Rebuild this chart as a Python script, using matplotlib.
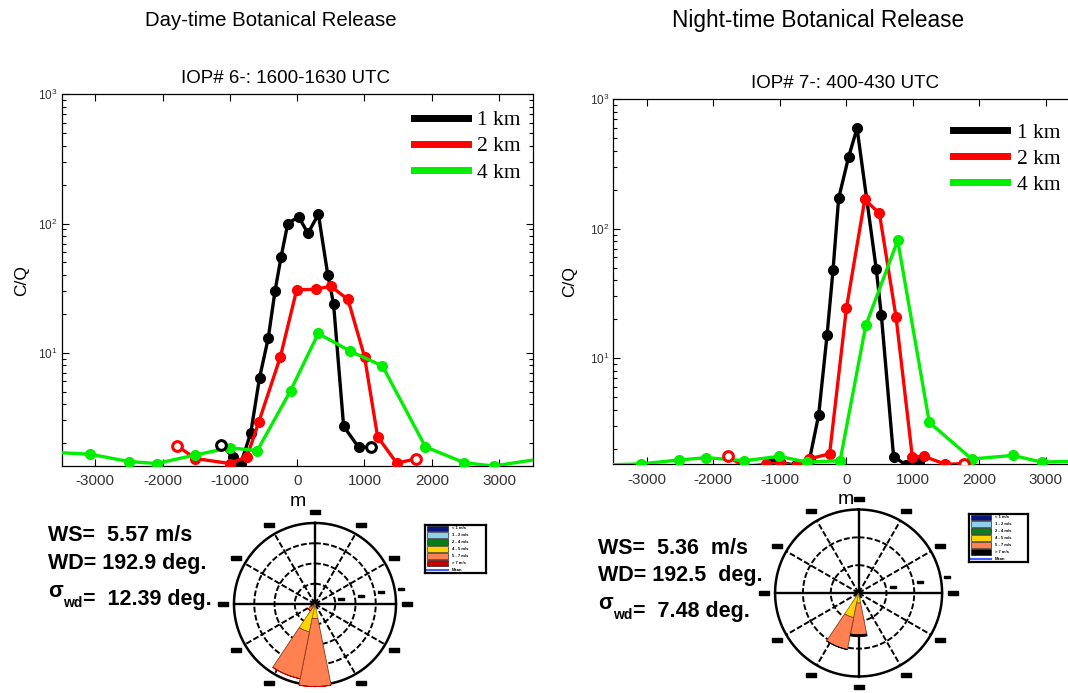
import numpy as np
import matplotlib
matplotlib.use('Agg')
import matplotlib.pyplot as plt
from matplotlib.lines import Line2D
from matplotlib.ticker import NullFormatter

plt.rcParams['font.family'] = ['Liberation Sans', 'DejaVu Sans']
plt.rcParams['mathtext.fontset'] = 'custom'
plt.rcParams['mathtext.rm'] = 'Liberation Sans'
plt.rcParams['axes.unicode_minus'] = False

# ---- crosswind profiles of C/Q (m from plume centre line) ----
# IOP 6, day-time release
day_x_1km = [-1130, -950, -840, -690, -560, -430, -330, -240, -140, 20, 160, 315, 455, 540, 690, 915, 1100]
day_c_1km = [1.95, 1.55, 1.38, 2.4, 6.4, 13, 30, 55, 100, 113, 84, 118, 40, 24, 2.7, 1.85, 1.87]
day_x_2km = [-1783, -1513, -1002, -746, -572, -250, -8, 274, 498, 754, 1001, 1195, 1480, 1763]
day_c_2km = [1.9, 1.52, 1.39, 1.57, 2.9, 9.3, 30.7, 31, 32.7, 25.9, 9.3, 2.24, 1.4, 1.51]
day_x_4km = [-3650, -3076, -2499, -2090, -1513, -1002, -593, -97, 312, 787, 1267, 1906, 2483, 2918, 3650]
day_c_4km = [1.70, 1.64, 1.44, 1.39, 1.62, 1.84, 1.75, 5.1, 14.1, 10.3, 7.9, 1.87, 1.41, 1.33, 1.52]

# IOP 7, night-time release
night_x_1km = [-1150, -1000, -750, -550, -413, -287, -197, -113, 38, 164, 453, 529, 713, 904, 1096]
night_c_1km = [1.62, 1.58, 1.49, 1.66, 3.65, 15.1, 48, 171, 359, 594, 48.5, 21.5, 1.74, 1.5, 1.55]
night_x_2km = [-1782, -1528, -1198, -995, -741, -563, -249, 5, 280, 500, 750, 995, 1173, 1492, 1772]
night_c_2km = [1.75, 1.46, 1.52, 1.55, 1.49, 1.67, 1.83, 24.5, 168, 131, 20.8, 1.73, 1.75, 1.52, 1.54]
night_x_4km = [-3700, -3086, -2518, -2102, -1528, -1005, -589, -91, 295, 775, 1250, 1888, 2508, 2939, 3700]
night_c_4km = [1.5, 1.53, 1.64, 1.71, 1.62, 1.75, 1.58, 1.62, 17.9, 81, 3.2, 1.67, 1.78, 1.58, 1.62]

# edge samplers drawn with open circles (index into each series)
day_open = {'1km': [0, -1], '2km': [0, -1]}
night_open = {'2km': [0, -1]}

# ---- wind roses (frequency %, 22.5 deg sectors) ----
day_dirs = [180, 202.5, 225]
day_yellow = [3.6, 7.0, 0.0]
day_orange = [16.8, 11.8, 2.0]
day_top = [0.0, 0.0, 0.0]
day_rings = [5, 10, 15, 20]

night_dirs = [180, 202.5]
night_yellow = [3.6, 9.0]
night_orange = [11.4, 11.7]
night_top = [0.7, 0.0]
night_rings = [10, 20, 30]

speed_classes = ['< 1 m/s', '1 - 2 m/s', '2 - 4 m/s', '4 - 5 m/s', '5 - 7 m/s', '> 7 m/s', 'Mean']
class_colors = ['#0a1480', '#8fd0ec', '#0b7d18', '#ffd400', '#ff8050', '#c80000', '#4060ff']

W, H = 1068, 693
fig = plt.figure(figsize=(W / 100, H / 100), dpi=100)


def rect(l, t, r, b):
    return [l / W, 1 - b / H, (r - l) / W, (b - t) / H]


def profile(ax, xs, cs, opens, ylim, title, title_x, legpos):
    colors = ['black', 'red', '#00ee00']
    keys = ['1km', '2km', '4km']
    for x, c, col, k in zip(xs, cs, colors, keys):
        ax.plot(x, c, '-o', color=col, lw=2.4, ms=7, mec=col, mfc=col, zorder=3)
        for i in opens.get(k, []):
            ax.plot(x[i], c[i], 'o', ms=7, mec=col, mfc='white', mew=2.2, zorder=4)
    ax.set_yscale('log')
    ax.set_xlim(-3500, 3500)
    ax.set_ylim(*ylim)
    ax.set_xticks(range(-3000, 3001, 1000))
    ax.yaxis.set_minor_formatter(NullFormatter())
    ax.tick_params(which='both', direction='in', top=True, right=True, width=0.8)
    ax.tick_params(which='major', length=5)
    ax.tick_params(which='minor', length=3)
    ax.tick_params(axis='x', labelsize=11, labelcolor='#333333', pad=6)
    ax.tick_params(axis='y', labelsize=8.5, labelcolor='#333333', pad=3)
    for s in ax.spines.values():
        s.set_linewidth(0.9)
    ax.set_title(title, fontsize=13.5, pad=8, x=title_x)
    ax.set_ylabel('C/Q', fontsize=12.5)
    ax.set_xlabel('m', fontsize=14)
    handles = [Line2D([], [], color=col, lw=5) for col in colors]
    ax.legend(handles, ['1 km', '2 km', '4 km'], loc='upper right', bbox_to_anchor=legpos,
              frameon=False, borderpad=0, borderaxespad=0, handlelength=2.5,
              handletextpad=0.45, labelspacing=0.28,
              prop={'family': 'Liberation Serif', 'size': 15.5})


ax1 = fig.add_axes(rect(61.7, 94.3, 532.7, 466))
profile(ax1, [day_x_1km, day_x_2km, day_x_4km], [day_c_1km, day_c_2km, day_c_4km],
        day_open, (1.33, 1000), 'IOP# 6-: 1600-1630 UTC', 0.475, (0.975, 0.957))
ax1.yaxis.set_label_coords(-0.069, 0.5)
ax1.xaxis.set_label_coords(0.502, -0.072)

ax2 = fig.add_axes(rect(613.3, 99, 1079, 464.3))
profile(ax2, [night_x_1km, night_x_2km, night_x_4km], [night_c_1km, night_c_2km, night_c_4km],
        night_open, (1.52, 1000), 'IOP# 7-: 400-430 UTC', 0.497, (0.96, 0.935))
ax2.yaxis.set_label_coords(-0.078, 0.5)
ax2.xaxis.set_label_coords(0.5, -0.072)

fig.text(271 / W, 1 - 20 / H, 'Day-time Botanical Release', ha='center', va='center', fontsize=14.7)
fig.text(818 / W, 1 - 20 / H, 'Night-time Botanical Release', ha='center', va='center', fontsize=16.3)

dash = [(-1, -0.38), (1, -0.38), (1, 0.38), (-1, 0.38), (-1, -0.38)]


def rose(cx, cy, rpx, rings, dirs, yellow, orange, top, topcol):
    R = rings[-1]
    lim = R * 1.3
    half = rpx * 1.3
    ax = fig.add_axes(rect(cx - half, cy - half, cx + half, cy + half), projection='polar')
    ax.set_theta_zero_location('N')
    ax.set_theta_direction(-1)
    ax.set_ylim(0, lim)
    ax.axis('off')
    th = np.linspace(0, 2 * np.pi, 361)
    for r in rings[:-1]:
        ax.plot(th, np.full_like(th, r), color='black', lw=1.4, ls=(0, (3, 1.2)), zorder=1)
    ax.plot(th, np.full_like(th, R), color='black', lw=1.8, zorder=1)
    for a in range(0, 360, 30):
        t = np.deg2rad(a)
        if a % 90 == 0:
            ax.plot([t, t], [0, R], color='black', lw=1.7, zorder=1)
        else:
            ax.plot([t, t], [0, R], color='black', lw=1.4, ls=(0, (3, 1.2)), zorder=1)
        ax.plot(t, R * 1.13, marker=dash, ms=7.5, color='black', clip_on=False)
    for r in rings:
        ax.plot(np.deg2rad(80), r + 0.08 * R, marker=dash, ms=5, color='black', clip_on=False)
    t = np.deg2rad(dirs)
    w = np.deg2rad(22.5)
    y = np.array(yellow)
    o = np.array(orange)
    ax.bar(t, y, width=w, bottom=0, color='#ffd400', edgecolor='#8a7000', lw=0.5, zorder=2)
    ax.bar(t, o, width=w, bottom=y, color='#ff8050', edgecolor='#8a3a1c', lw=0.6, zorder=2)
    ax.bar(t, top, width=w, bottom=y + o, color=topcol, edgecolor=topcol, lw=0.6, zorder=2)
    return ax


rose(315, 604, 81, day_rings, day_dirs, day_yellow, day_orange, day_top, '#c80000')
rose(858.6, 593, 83.5, night_rings, night_dirs, night_yellow, night_orange, night_top, 'black')


def rose_key(l, t, r, b, colors):
    ax = fig.add_axes(rect(l, t, r, b))
    ax.set_xlim(0, 1)
    ax.set_ylim(0, 7)
    ax.set_xticks([])
    ax.set_yticks([])
    for s in ax.spines.values():
        s.set_linewidth(1.6)
    for i, (lab, col) in enumerate(zip(speed_classes, colors)):
        yc = 6.5 - i
        if i < 6:
            ax.add_patch(plt.Rectangle((0.04, yc - 0.42), 0.34, 0.84, facecolor=col,
                                       edgecolor='black', lw=0.4))
        else:
            ax.plot([0.04, 0.38], [yc, yc], color=col, lw=1.5)
        ax.text(0.44, yc, lab, fontsize=3, fontweight='bold', va='center')


rose_key(425, 525, 486, 573, class_colors)
rose_key(969, 514, 1028, 562, class_colors[:5] + ['black', class_colors[6]])

# wind summary text
tax = fig.add_axes([0, 0, 1, 1])
tax.axis('off')
tax.set_xlim(0, W)
tax.set_ylim(H, 0)


def wind_text(x, y0, step, ws, wd, sd):
    kw = dict(fontsize=15.5, fontweight='bold', va='baseline')
    tax.text(x, y0, ws, **kw)
    tax.text(x, y0 + step, wd, **kw)
    s = tax.text(x, y0 + 2 * step, '\u03c3', **kw)
    sub = tax.annotate('wd', xy=(1, 0), xycoords=s, xytext=(0.5, -3.5), textcoords='offset points',
                       fontsize=10, fontweight='bold', va='baseline')
    tax.annotate(sd, xy=(1, 0), xycoords=sub, xytext=(0, 3.5), textcoords='offset points', **kw)


wind_text(48, 541, 28, 'WS=  5.57 m/s', 'WD= 192.9 deg.', '=  12.39 deg.')
wind_text(598, 554, 27.5, 'WS=  5.36  m/s', 'WD= 192.5  deg.', '=  7.48 deg.')

fig.savefig('out.png', dpi=100)
